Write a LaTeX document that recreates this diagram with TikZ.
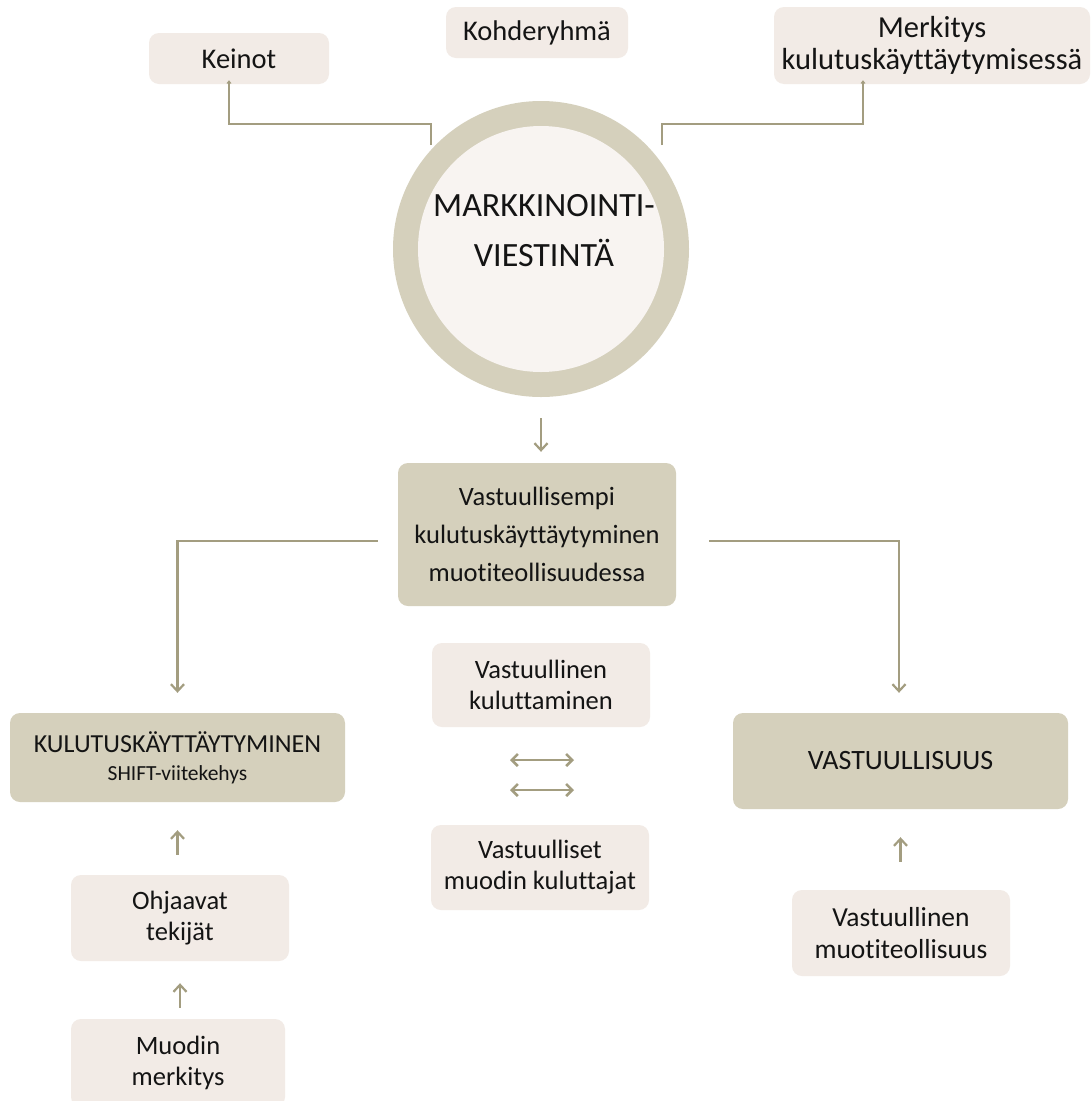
\documentclass[tikz,border=0pt]{standalone}
\usepackage{fontspec}
\setmainfont{Carlito}[Ligatures=NoCommon]
\usetikzlibrary{arrows.meta}
\definecolor{lightbox}{HTML}{F2EBE6}
\definecolor{darkbox}{HTML}{D5D0BC}
\definecolor{innerc}{HTML}{F8F4F1}
\definecolor{conn}{HTML}{A39D80}
\definecolor{txt}{HTML}{141414}
\begin{document}
\begin{tikzpicture}[x=1pt,y=-1pt,
  base/.style={rounded corners=10pt, align=center, text=txt, inner sep=0pt,
    font=\fontsize{26.5}{31}\selectfont},
  lbox/.style={base, fill=lightbox},
  dbox/.style={base, fill=darkbox},
  topbox/.style={lbox, font=\fontsize{28.5}{32}\selectfont},
  conline/.style={draw=conn, line width=2.2pt},
  bigarrow/.style={conline, -{Straight Barb[length=7pt,width=13pt,line width=2.2pt]}},
  smallarrow/.style={draw=conn, line width=1.6pt, -{Straight Barb[length=2.5pt,width=4pt,line width=1pt]}},
  dblarrow/.style={conline, line width=2.8pt, {Straight Barb[length=6pt,width=12pt,line width=2.6pt]}-{Straight Barb[length=6pt,width=12pt,line width=2.6pt]}}
]
\useasboundingbox (0,0) rectangle (1091,1101);
\fill[white] (0,0) rectangle (1091,1101);

% top boxes
\node[topbox, minimum width=180pt, minimum height=51pt] (keinot) at (239,58.5) {Keinot};
\node[topbox, minimum width=182pt, minimum height=51pt] (kohde) at (537,32.5) {Kohderyhmä};
\node[topbox, minimum width=316pt, minimum height=77pt, font=\fontsize{30.5}{32}\selectfont] (merk) at (932,45.5) {Merkitys\\kulutuskäyttäytymisessä};

% circle
\node[circle, fill=darkbox, minimum size=296pt, inner sep=0pt] (mvring) at (541,249) {};
\node[circle, fill=innerc, minimum size=246pt, inner sep=0pt] (mv) at (541,249) {};
\node[align=center, text=txt, inner sep=0pt, font=\fontsize{34}{50}\selectfont]
  (mvtext) at ([xshift=3pt,yshift=18pt]mv.center) {MARKKINOINTI-\\VIESTINTÄ};

% connectors from circle to top boxes
\coordinate (cL) at (431,145);
\coordinate (cR) at (662,145);
\draw[smallarrow] (cL) -- (431,124) -| ([xshift=-10pt,yshift=4pt]keinot.south);
\draw[smallarrow] (cR) -- (662,124) -| ([xshift=-69pt,yshift=4pt]merk.south);

% center box
\node[dbox, minimum width=278pt, minimum height=143pt, font=\fontsize{26.5}{38}\selectfont] (vk) at (537,534.5)
  {Vastuullisempi\\kulutuskäyttäytyminen\\muotiteollisuudessa};
\draw[bigarrow, shorten <=21pt, shorten >=11pt] (mvring.south) -- (vk.north -| mvring.south);

% left column
\node[dbox, minimum width=335pt, minimum height=89pt, font=\fontsize{26}{31}\selectfont] (kulu) at (177.5,757.5)
  {KULUTUSKÄYTTÄYTYMINEN\\[-3pt]{\fontsize{21.5}{25}\selectfont SHIFT-viitekehys}};
\node[lbox, minimum width=218pt, minimum height=86pt] (ohj) at (180,918) {Ohjaavat\\tekijät};
\node[lbox, minimum width=214pt, minimum height=88pt] (muod) at (178,1063) {Muodin\\merkitys};

% middle column
\node[lbox, minimum width=218pt, minimum height=84pt] (vkul) at (541,685) {Vastuullinen\\kuluttaminen};
\node[lbox, minimum width=218pt, minimum height=85pt] (vmk) at (540,867.5) {Vastuulliset\\muodin kuluttajat};

% right column
\node[dbox, minimum width=335pt, minimum height=96pt, font=\fontsize{28}{31}\selectfont] (vast) at (900.5,761) {VASTUULLISUUS};
\node[lbox, minimum width=218pt, minimum height=86pt, font=\fontsize{27.5}{32}\selectfont] (vmt) at (901,933) {Vastuullinen\\muotiteollisuus};

% connectors from center box
\draw[bigarrow, shorten >=20pt] (vk.west) ++(-20,6.5) -| (kulu.north);
\draw[bigarrow, shorten >=20pt] (vk.east) ++(33,6.5) -| ([xshift=-1.5pt]vast.north);

% up arrows
\draw[bigarrow, shorten <=20pt, shorten >=28pt] (ohj.north -| kulu.south) -- (kulu.south);
\draw[bigarrow, shorten <=11pt, shorten >=22pt] (muod.north -| ohj.south) -- (ohj.south);
\draw[bigarrow, shorten <=28pt, shorten >=28pt] (vmt.north -| vast.south) -- ([xshift=-0.5pt]vast.south -| vmt.north);

% double arrows
\coordinate (d1a) at (510,760);
\coordinate (d1b) at (574,760);
\coordinate (d2a) at (510,790);
\coordinate (d2b) at (574,790);
\draw[dblarrow] (d1a) -- (d1b);
\draw[dblarrow] (d2a) -- (d2b);
\end{tikzpicture}
\end{document}
